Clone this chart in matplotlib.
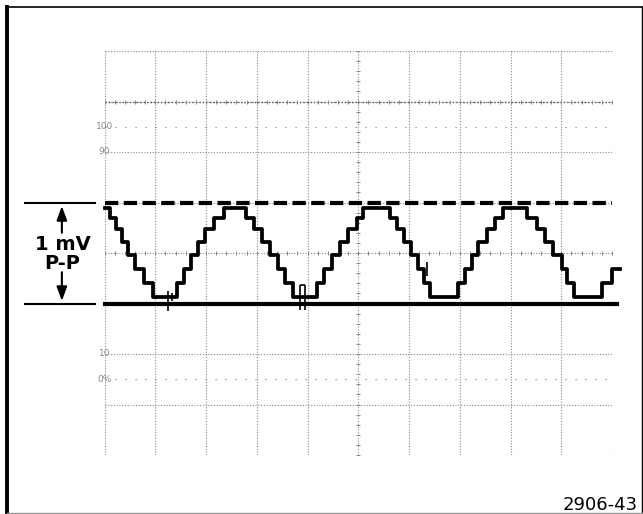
import matplotlib
matplotlib.use("Agg")
import matplotlib.pyplot as plt
from matplotlib.lines import Line2D
import numpy as np

# graticule: 10 x 8 divisions, 0.5 mV/div
n_xdiv = 10
n_ydiv = 8

# quantized levels of the stepped sine (divisions)
levels = [3.13, 3.41, 3.68, 3.96, 4.22, 4.48, 4.69, 4.89]

# step start positions (div) and level index of each step
step_x = [0.00, 0.11, 0.23, 0.35, 0.46, 0.60, 0.78, 0.96,
          1.43, 1.57, 1.70, 1.84, 1.98, 2.16, 2.36,
          2.79, 2.95, 3.10, 3.26, 3.42, 3.56, 3.71,
          4.19, 4.33, 4.48, 4.64, 4.80, 4.98, 5.09,
          5.63, 5.76, 5.90, 6.04, 6.18, 6.30, 6.41,
          6.97, 7.10, 7.24, 7.36, 7.54, 7.70, 7.85,
          8.33, 8.52, 8.68, 8.84, 9.02, 9.11, 9.25,
          9.80, 10.00]
step_level = [7, 6, 5, 4, 3, 2, 1, 0,
              1, 2, 3, 4, 5, 6, 7,
              6, 5, 4, 3, 2, 1, 0,
              1, 2, 3, 4, 5, 6, 7,
              6, 5, 4, 3, 2, 1, 0,
              1, 2, 3, 4, 5, 6, 7,
              6, 5, 4, 3, 2, 1, 0,
              1, 2]
trace_end = 10.16

# glitches on the trace
glitch_x = [1.26, 1.33, 3.85, 3.95, 6.36]
glitch_lo = [2.86, 3.05, 2.88, 2.88, 3.54]
glitch_hi = [3.25, 3.20, 3.37, 3.37, 3.82]

ref_top = 5.0     # dashed
ref_bottom = 3.0  # solid

pct_y = [6.5, 6.0, 2.0, 1.5]
pct_labels = ["100", "90", "10", "0%"]

fig = plt.figure(figsize=(6.43, 5.14), dpi=100)
W, H = 643.0, 514.0
ax = fig.add_axes([104.5 / W, (H - 455) / H, (612 - 104.5) / W, (455 - 51) / H])
ax.set_xlim(0, n_xdiv)
ax.set_ylim(0, n_ydiv)
ax.axis("off")

grid_c = "#8a8a8a"
for gx in range(n_xdiv + 1):
    ax.plot([gx, gx], [0, n_ydiv], color=grid_c, lw=0.8, ls=(0, (1, 1.5)))
for gy in range(n_ydiv + 1):
    ax.plot([0, n_xdiv], [gy, gy], color=grid_c, lw=0.8, ls=(0, (1, 1.5)))
ax.plot([0, n_xdiv], [7, 7], color="#555555", lw=1.0, ls=(0, (1, 1.5)))

# minor tick marks along some graticule lines
minor = np.arange(0, n_xdiv + 0.01, 0.2)
for gy in [7, 4]:
    ax.plot(minor, np.full_like(minor, gy), ls="none", marker="|", ms=2.5,
            color="#888888", mew=0.7)
minor_y = np.arange(0, n_ydiv + 0.01, 0.2)
ax.plot(np.full_like(minor_y, 5), minor_y, ls="none", marker="_", ms=2.5,
        color="#888888", mew=0.7)

# 0% / 100% rise-time lines
for py in [6.5, 1.5]:
    ax.plot([0, n_xdiv], [py, py], color="#777777", lw=0.8, ls=(0, (1, 8)))
for py, lab in zip(pct_y, pct_labels):
    ax.text(0, py, lab, ha="center", va="center", fontsize=6.5, color="#8a8a8a",
            clip_on=False)

# reference lines
ax.plot([0, n_xdiv], [ref_top, ref_top], color="black", lw=3.0,
        dashes=(3.2, 1.3), solid_capstyle="butt", clip_on=False)
ax.plot([0, 10.09], [ref_bottom, ref_bottom], color="black", lw=3.0,
        clip_on=False)

# stepped waveform
trace_y = [levels[i] for i in step_level]
ax.step(step_x + [trace_end], trace_y + [trace_y[-1]], where="post",
        color="black", lw=2.7, clip_on=False)
ax.vlines(glitch_x, glitch_lo, glitch_hi, color="black", lw=1.2)
ax.hlines(glitch_hi[2], glitch_x[2], glitch_x[3], color="black", lw=1.2)

# 1 mV P-P annotation
ax.plot([-1.57, -0.19], [ref_top, ref_top], color="black", lw=1.5, clip_on=False)
ax.plot([-1.57, -0.19], [ref_bottom, ref_bottom], color="black", lw=1.5,
        clip_on=False)
arrow = dict(arrowstyle="-|>,head_length=0.6,head_width=0.22", color="black",
             lw=1.5, shrinkA=0, shrinkB=0, mutation_scale=14)
ax.annotate("", xy=(-0.84, 4.93), xytext=(-0.84, 4.40), arrowprops=arrow,
            annotation_clip=False)
ax.annotate("", xy=(-0.84, 3.05), xytext=(-0.84, 3.62), arrowprops=arrow,
            annotation_clip=False)
ax.text(-0.83, 4.16, "1 mV", ha="center", va="center", fontsize=14,
        fontweight="bold", clip_on=False)
ax.text(-0.83, 3.80, "P-P", ha="center", va="center", fontsize=14,
        fontweight="bold", clip_on=False)

# frame
fig.add_artist(Line2D([6.5 / W, 6.5 / W], [0, 1 - 7 / H], color="black", lw=2.8))
fig.add_artist(Line2D([6.5 / W, 1], [1 - 7 / H, 1 - 7 / H], color="black", lw=1.2))
fig.add_artist(Line2D([641.5 / W, 641.5 / W], [0, 1 - 7 / H], color="black", lw=1.0))
fig.add_artist(Line2D([6.5 / W, 1], [1.5 / H, 1.5 / H], color="#999999", lw=1.0))

fig.text(638 / W, (H - 510) / H, "2906-43", ha="right", va="baseline", fontsize=13)

fig.savefig("out.png", dpi=100)
